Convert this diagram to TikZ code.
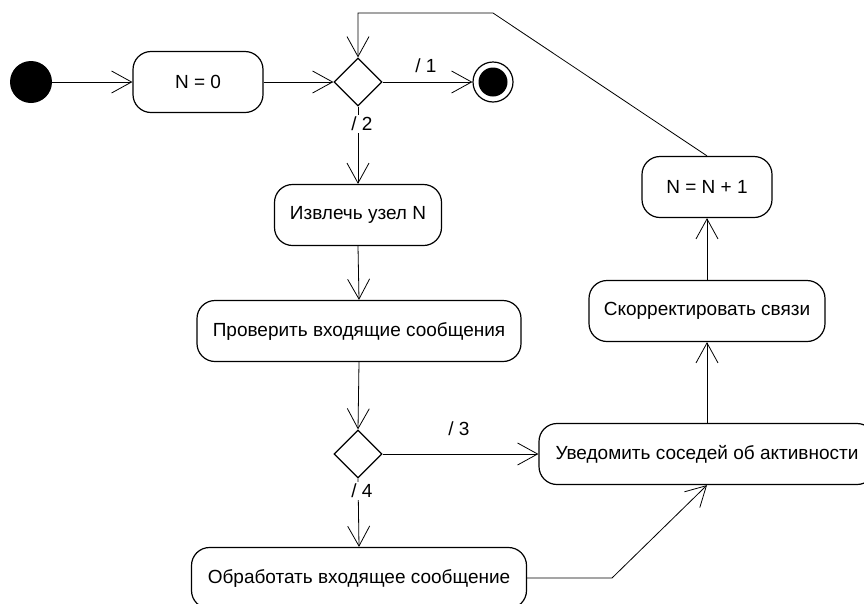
\documentclass[tikz,border=0pt]{standalone}
\usepackage{fontspec}
\setmainfont{Liberation Sans}
\usetikzlibrary{shapes.geometric,arrows.meta}

\tikzset{
  act/.style={draw,line width=1.2pt,rounded corners=18pt,minimum height=61pt,minimum width=#1,inner sep=0pt},
  choice/.style={draw,diamond,line width=1.2pt,minimum width=48pt,minimum height=48pt,inner sep=0pt},
  startnode/.style={circle,fill=black,minimum size=42pt,inner sep=0pt},
  endnode/.style={circle,draw,line width=1.2pt,minimum size=40pt,inner sep=0pt,
    path picture={\fill (path picture bounding box.center) circle (14.5pt);}},
  flow/.style={line width=0.8pt,-{Straight Barb[length=20pt,width=22pt]}},
  guard/.style={fill=white,inner sep=2pt}
}

\begin{document}
\begin{tikzpicture}[x=1pt,y=-1pt,font=\fontsize{19}{22}\selectfont]
\useasboundingbox (0,0) rectangle (864,603);

\node[startnode] (start) at (31,82) {};
\node[act=130pt] (zero) at (198,82) {N = 0};
\node[choice] (ch1) at (358,82) {};
\node[endnode] (stop) at (493,82) {};

\node[act=167pt] (fetch) at (358,215) {Извлечь узел N};
\node[act=324pt] (check) at (359,331) {Проверить входящие сообщения};
\node[choice] (ch2) at (358,454) {};
\node[act=335pt] (handle) at (359,578) {Обработать входящее сообщение};

\node[act=336pt] (notify) at (707,454) {Уведомить соседей об активности};
\node[act=236pt] (fix) at (707,311) {Скорректировать связи};
\node[act=130pt] (incr) at (707,187) {N = N + 1};

\coordinate (loopA) at (493,13);
\coordinate (loopB) at (358,13);
\coordinate (bendB) at (612,578);

\draw[flow] (start) -- (zero);
\draw[flow] (zero) -- (ch1.west);
\draw[flow] (ch1.east) -- (stop);
\draw[flow] (ch1.south) -- (fetch.north);
\draw[flow] (fetch.south) -- (check.north);
\draw[flow] (check.south) -- (ch2.north);
\draw[flow] (ch2.east) -- (notify.west);
\draw[flow] (ch2.south) -- (handle.north);
\draw[flow] (handle.east) -- (bendB) -- (notify.south);
\draw[flow] (notify.north) -- (fix.south);
\draw[flow] (fix.north) -- (incr.south);
\draw[flow] (incr.north) -- (loopA) -- (loopB) -- (ch1.north);

% guards
\node (g1) at (426,66) {/ 1};
\node[guard] (g2) at (362,124) {/ 2};
\node (g3) at (459,429) {/ 3};
\node[guard] (g4) at (362,491) {/ 4};
\end{tikzpicture}
\end{document}
